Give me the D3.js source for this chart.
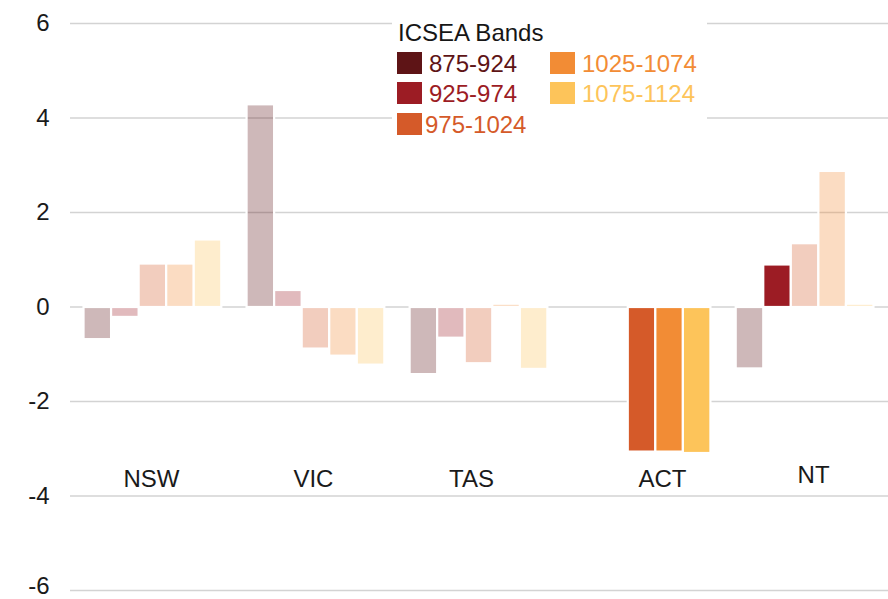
<!DOCTYPE html>
<html>
<head>
<meta charset="utf-8">
<script src="https://cdn.jsdelivr.net/npm/d3@7"></script>
<style>
  body { margin: 0; background: #fff; }
  text { font-family: "Liberation Sans", Arial, sans-serif; }
</style>
</head>
<body>
<div id="chart"></div>
<script>
// categories and series
var states = ["NSW", "VIC", "TAS", "ACT", "NT"];
var bands = ["875-924", "925-974", "975-1024", "1025-1074", "1075-1124"];
var bandColors = ["#5e1416", "#9c1c24", "#d55a29", "#f28c35", "#fdc45a"];

// values per band, in state order (null = no schools in that band)
var band875 = [-0.68, 4.29, -1.42, null, -1.30];
var band925 = [-0.21, 0.36, -0.65, null, 0.90];
var band975 = [0.92, -0.88, -1.19, -3.06, 1.35];
var band1025 = [0.92, -1.03, 0.07, -3.06, 2.88];
var band1075 = [1.43, -1.22, -1.31, -3.09, 0.07];

// 1 = significant (full colour), 0 = faded
var sig875 = [0, 0, 0, 0, 0];
var sig925 = [0, 0, 0, 0, 1];
var sig975 = [0, 0, 0, 1, 0];
var sig1025 = [0, 0, 0, 1, 0];
var sig1075 = [0, 0, 0, 1, 0];

var yTicks = [6, 4, 2, 0, -2, -4, -6];
var legendTitle = "ICSEA Bands";

var width = 888, height = 599;

var series = [band875, band925, band975, band1025, band1075];
var sigs = [sig875, sig925, sig975, sig1025, sig1075];

var svg = d3.select("#chart")
    .append("svg")
    .attr("width", width)
    .attr("height", height);

var y = d3.scaleLinear()
    .domain([-6, 6])
    .range([590.5, 23.5]);

var x0 = d3.scaleBand()
    .domain(states)
    .range([69.5, 887.5])
    .paddingInner(0.155)
    .paddingOuter(0.086);

var x1 = d3.scaleBand()
    .domain(bands)
    .range([0, x0.bandwidth()])
    .paddingInner(0);

// gridlines
svg.append("g")
    .selectAll("line")
    .data(yTicks)
    .enter()
    .append("line")
    .attr("x1", 70)
    .attr("x2", width)
    .attr("y1", function (d) { return y(d); })
    .attr("y2", function (d) { return y(d); })
    .attr("stroke", "#d3d3d3")
    .attr("stroke-width", 1.6);

// y labels (bottom one kept inside the frame)
svg.append("g")
    .selectAll("text")
    .data(yTicks)
    .enter()
    .append("text")
    .attr("x", 49.5)
    .attr("y", function (d) { return Math.min(y(d) + 7.7, 593.5); })
    .attr("text-anchor", "end")
    .style("font-size", "24px")
    .style("fill", "#1a1a1a")
    .text(function (d) { return String(d); });

// bars
var rows = [];
states.forEach(function (s, i) {
    bands.forEach(function (b, j) {
        if (series[j][i] !== null) {
            rows.push({ state: s, band: b, idx: j, value: series[j][i], sig: sigs[j][i] });
        }
    });
});

svg.append("g")
    .selectAll("rect")
    .data(rows)
    .enter()
    .append("rect")
    .attr("x", function (d) { return x0(d.state) + x1(d.band); })
    .attr("width", x1.bandwidth())
    .attr("y", function (d) { return y(Math.max(0, d.value)); })
    .attr("height", function (d) { return Math.abs(y(d.value) - y(0)); })
    .attr("fill", function (d) { return bandColors[d.idx]; })
    .attr("fill-opacity", function (d) { return d.sig ? 1 : 0.3; })
    .attr("stroke", "#fff")
    .attr("stroke-width", 2.2);

// state labels
var labelDx = [-1, -2, -7, 21, 9];
var labelY = [486.5, 486.5, 486.5, 486.5, 483];
svg.append("g")
    .selectAll("text")
    .data(states)
    .enter()
    .append("text")
    .attr("x", function (d, i) { return x0(d) + x0.bandwidth() / 2 + labelDx[i]; })
    .attr("y", function (d, i) { return labelY[i]; })
    .attr("text-anchor", "middle")
    .style("font-size", "24px")
    .style("fill", "#1a1a1a")
    .text(function (d) { return d; });

// legend
var legend = svg.append("g");
legend.append("rect")
    .attr("x", 392)
    .attr("y", 8)
    .attr("width", 315)
    .attr("height", 132)
    .attr("fill", "#fff");

legend.append("text")
    .attr("x", 398)
    .attr("y", 40.5)
    .style("font-size", "24px")
    .style("fill", "#161616")
    .text(legendTitle);

var colX = [397, 550];
var rowY = [72, 102, 133];
var item = legend.selectAll(".item")
    .data(bands)
    .enter()
    .append("g")
    .attr("class", "item")
    .attr("transform", function (d, i) {
        return "translate(" + colX[Math.floor(i / 3)] + "," + rowY[i % 3] + ")";
    });

item.append("rect")
    .attr("x", 0)
    .attr("y", -20)
    .attr("width", 25)
    .attr("height", 22)
    .attr("fill", function (d, i) { return bandColors[i]; });

item.append("text")
    .attr("x", function (d, i) { return i == 2 ? 28 : 32; })
    .attr("y", 0)
    .style("font-size", "24px")
    .style("fill", function (d, i) { return bandColors[i]; })
    .text(function (d) { return d; });
</script>
</body>
</html>
